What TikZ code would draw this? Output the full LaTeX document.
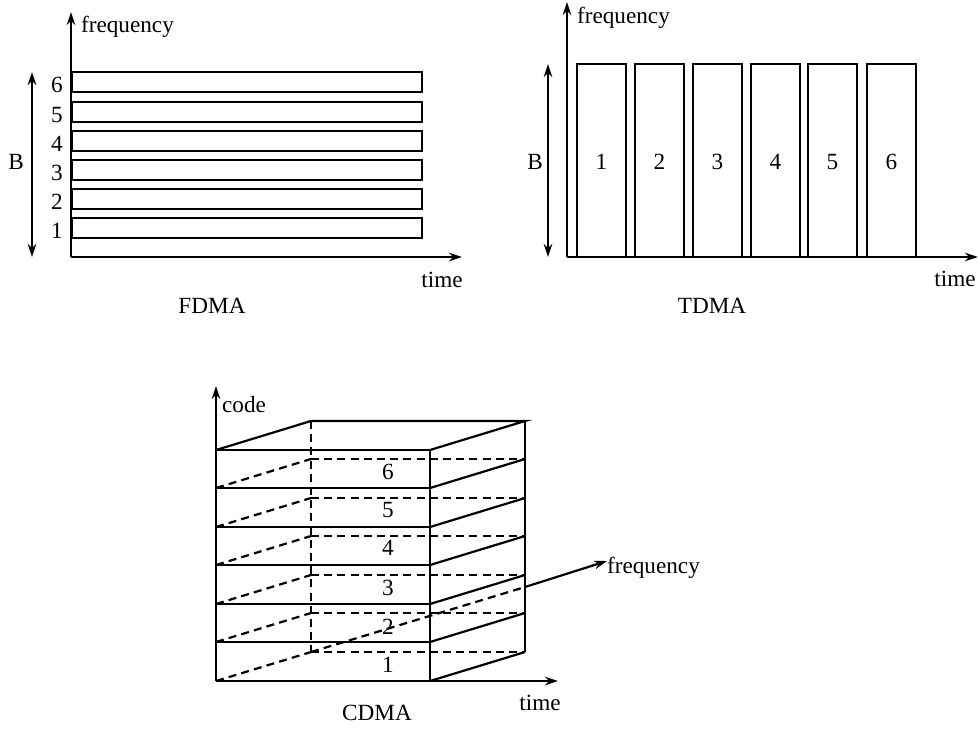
\documentclass[tikz,border=0pt]{standalone}
\usepackage{fontspec}
\setmainfont{Liberation Serif}
\usetikzlibrary{arrows.meta}
\begin{document}
\begin{tikzpicture}[x=0.5pt,y=-0.5pt,line width=1.1pt,
  every node/.style={font=\fontsize{11.6}{13}\selectfont,inner sep=1pt},
  axis/.style={-{Stealth[length=6.5pt,width=4.2pt]}},
  baxis/.style={{Stealth[length=6.5pt,width=4.2pt]}-{Stealth[length=6.5pt,width=4.2pt]}},
  dsh/.style={dash pattern=on 4pt off 2.6pt}]
\useasboundingbox (0,0) rectangle (980,736);
% ---------- FDMA ----------
\coordinate (fo) at (71,257);
\coordinate (fy) at (71,12);
\coordinate (fx) at (462,257);
\draw[axis] (fo) -- (fy);
\draw[axis] (fo) -- (fx);
\foreach \i/\t in {1/218,2/189,3/160,4/131,5/102,6/72}{
  \draw (72,\t) rectangle (422,\t+20);
  \node (fl\i) at (57,\t+13) {\i};
}
\coordinate (fb1) at (32,72);
\coordinate (fb2) at (32,257);
\draw[baxis] (fb1) -- (fb2);
\node (fB) at (16,162) {B};
\node[anchor=west] (ffreq) at (78,27) {frequency};
\node (ftime) at (442,280) {time};
\node (fname) at (212,306) {FDMA};
% ---------- TDMA ----------
\coordinate (to) at (567,257);
\coordinate (ty) at (567,2);
\coordinate (tx) at (978,257);
\draw[axis] (to) -- (ty);
\draw[axis] (to) -- (tx);
\foreach \i/\x in {1/577,2/635,3/693,4/751,5/808,6/867}{
  \draw (\x,257) rectangle (\x+49,64);
  \node (tl\i) at (\x+24.5,162) {\i};
}
\coordinate (tb1) at (548,64);
\coordinate (tb2) at (548,257);
\draw[baxis] (tb1) -- (tb2);
\node (tB) at (535,162) {B};
\node[anchor=west] (tfreq) at (574,18) {frequency};
\node (ttime) at (955,279) {time};
\node (tname) at (712,306) {TDMA};
% ---------- CDMA ----------
\coordinate (co) at (216,681);
\coordinate (cy) at (216,386);
\coordinate (cx) at (558,681);
\draw[axis] (co) -- (cy);
\draw[axis] (co) -- (cx);
% top face
\draw (216,450) -- (311,421) -- (525,421) -- (430,450);
% front and right faces
\draw (430,450) -- (430,681);
\draw (525,421) -- (525,652);
\foreach \yy in {450,488,527,565,604,642,681}{
  \draw (216,\yy) -- (430,\yy);
}
\foreach \yy in {488,527,565,604,642,681}{
  \draw (430,\yy) -- (525,\yy-29);
  \draw[dsh] (216,\yy) -- (311,\yy-29);
  \draw[dsh] (311,\yy-29) -- (525,\yy-29);
}
\draw[dsh] (311,421) -- (311,652);
% frequency axis
\coordinate (cf1) at (311,652);
\coordinate (cf2) at (525,587);
\coordinate (cf3) at (607,561);
\draw[dsh] (cf1) -- (cf2);
\draw[axis] (cf2) -- (cf3);
\node[anchor=west] (cfreq) at (604,568) {frequency};
\node[anchor=west] (ccode) at (219,405) {code};
\foreach \i/\yy in {1/665,2/627,3/588,4/548,5/510,6/472}{
  \node (cl\i) at (388,\yy) {\i};
}
\node (ctime) at (540,703) {time};
\node (cname) at (377,713) {CDMA};
\end{tikzpicture}
\end{document}
